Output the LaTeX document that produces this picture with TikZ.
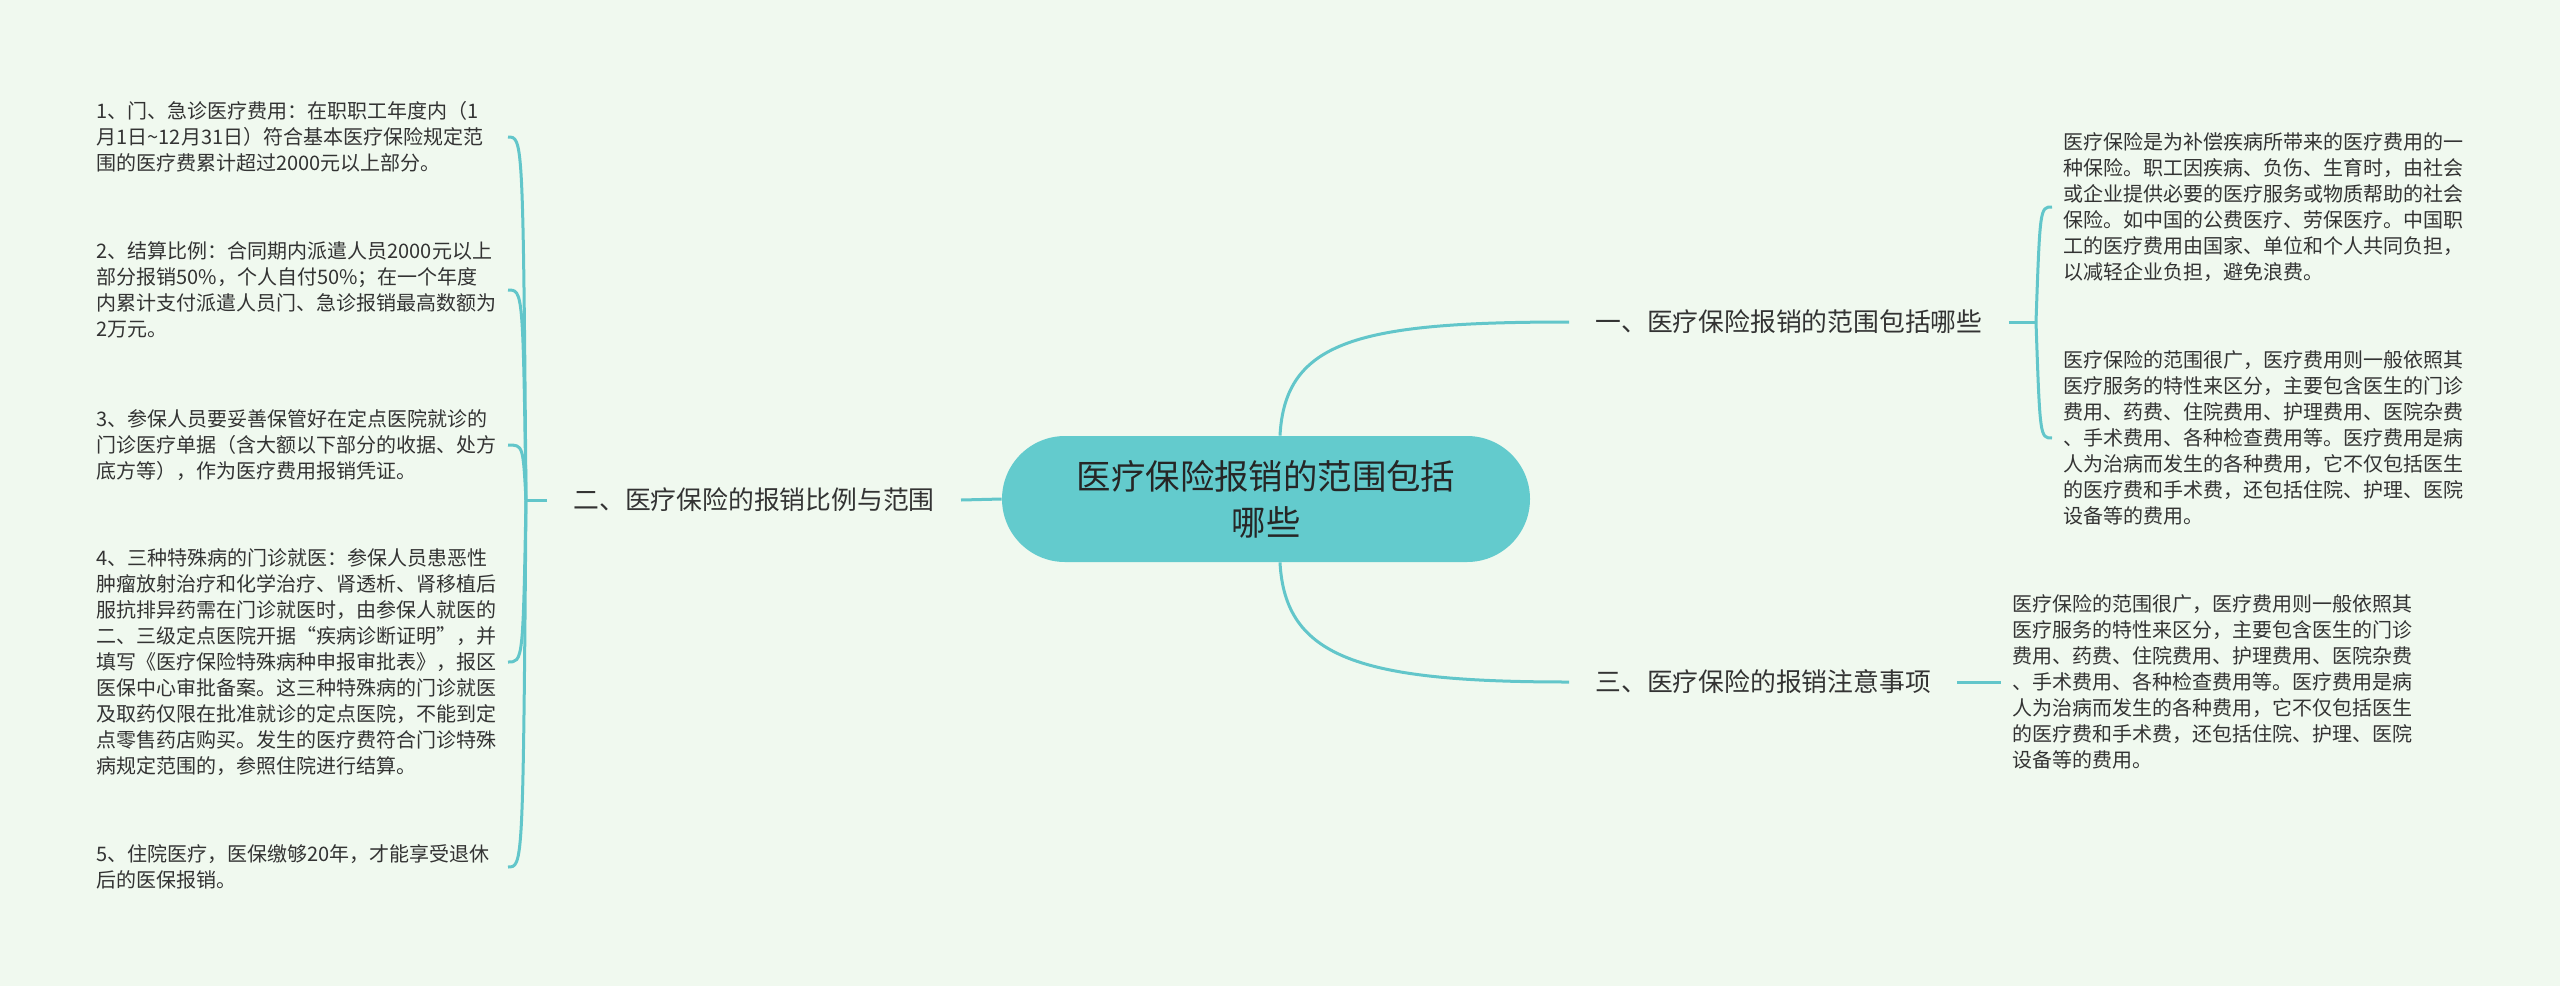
\documentclass[tikz,border=0pt]{standalone}
\usepackage{fontspec}
\newfontfamily\cjk{Noto Sans CJK SC}
\definecolor{bgmint}{HTML}{F0F9EF}
\definecolor{mmteal}{HTML}{62C6CA}
\definecolor{hubfill}{HTML}{63CBCD}
\definecolor{inkgrey}{HTML}{333333}
\tikzset{
  link/.style={draw=mmteal, line width=1.5pt},
  leaf/.style={font=\cjk\fontsize{10pt}{13pt}\selectfont, text=inkgrey, align=left,
    text width=200pt, inner xsep=5.5pt, inner ysep=0pt},
  branch/.style={font=\cjk\fontsize{12.9pt}{16pt}\selectfont, text=inkgrey,
    inner xsep=13pt, inner ysep=2pt},
  hub/.style={fill=hubfill, rounded corners=31.5pt, minimum width=264pt, minimum height=63pt,
    align=center, font=\cjk\fontsize{17.2pt}{23pt}\selectfont, text=black!85}
}
\begin{document}
\begin{tikzpicture}[x=0.5pt, y=-0.5pt]
  \fill[bgmint] (0,0) rectangle (2560,986);
  \useasboundingbox (0,0) rectangle (2560,986);

  % centre and main branches
  \node[hub] (c) at (1266,499) {医疗保险报销的范围包括\\哪些};
  \node[branch, anchor=west] (b1) at (1569,322) {一、医疗保险报销的范围包括哪些};
  \node[branch, anchor=east] (b2) at (961,500) {二、医疗保险的报销比例与范围};
  \node[branch, anchor=west] (b3) at (1569,682) {三、医疗保险的报销注意事项};

  % left leaves
  \node[leaf, anchor=east] (l1) at (508,137) {1、门、急诊医疗费用：在职职工年度内（1\\月1日\textasciitilde12月31日）符合基本医疗保险规定范\\围的医疗费累计超过2000元以上部分。};
  \node[leaf, anchor=east] (l2) at (508,290) {2、结算比例：合同期内派遣人员2000元以上\\部分报销50\%，个人自付50\%；在一个年度\\内累计支付派遣人员门、急诊报销最高数额为\\2万元。};
  \node[leaf, anchor=east] (l3) at (508,445) {3、参保人员要妥善保管好在定点医院就诊的\\门诊医疗单据（含大额以下部分的收据、处方\\底方等），作为医疗费用报销凭证。};
  \node[leaf, anchor=east] (l4) at (508,662) {4、三种特殊病的门诊就医：参保人员患恶性\\肿瘤放射治疗和化学治疗、肾透析、肾移植后\\服抗排异药需在门诊就医时，由参保人就医的\\二、三级定点医院开据“疾病诊断证明”，并\\填写《医疗保险特殊病种申报审批表》，报区\\医保中心审批备案。这三种特殊病的门诊就医\\及取药仅限在批准就诊的定点医院，不能到定\\点零售药店购买。发生的医疗费符合门诊特殊\\病规定范围的，参照住院进行结算。};
  \node[leaf, anchor=east] (l5) at (508,867) {5、住院医疗，医保缴够20年，才能享受退休\\后的医保报销。};

  % right leaves
  \node[leaf, anchor=west] (r1) at (2052,207) {医疗保险是为补偿疾病所带来的医疗费用的一\\种保险。职工因疾病、负伤、生育时，由社会\\或企业提供必要的医疗服务或物质帮助的社会\\保险。如中国的公费医疗、劳保医疗。中国职\\工的医疗费用由国家、单位和个人共同负担，\\以减轻企业负担，避免浪费。};
  \node[leaf, anchor=west] (r2) at (2052,438) {医疗保险的范围很广，医疗费用则一般依照其\\医疗服务的特性来区分，主要包含医生的门诊\\费用、药费、住院费用、护理费用、医院杂费\\、手术费用、各种检查费用等。医疗费用是病\\人为治病而发生的各种费用，它不仅包括医生\\的医疗费和手术费，还包括住院、护理、医院\\设备等的费用。};
  \node[leaf, anchor=west] (r3) at (2001,682) {医疗保险的范围很广，医疗费用则一般依照其\\医疗服务的特性来区分，主要包含医生的门诊\\费用、药费、住院费用、护理费用、医院杂费\\、手术费用、各种检查费用等。医疗费用是病\\人为治病而发生的各种费用，它不仅包括医生\\的医疗费和手术费，还包括住院、护理、医院\\设备等的费用。};

  % connectors
  \coordinate (b2j) at (526,500);
  \coordinate (b1j) at (2036,322);
  \draw[link] ([xshift=7pt]c.north) .. controls (1285,340) and (1360,322) .. (b1.west);
  \draw[link] ([xshift=7pt]c.south) .. controls (1285,658) and (1360,682) .. (b3.west);
  \draw[link] (b2.east) -- (c.west);
  \draw[link] (b2.west) -- (b2j);
  \draw[link] (b1.east) -- (b1j);
  \draw[link] (b3.east) -- (r3.west);
  \foreach \n in {l1,l2,l3,l4,l5}
    \draw[link] (b2j) .. controls ([xshift=7.5pt]\n.east) .. (\n.east);
  \foreach \n in {r1,r2}
    \draw[link] (b1j) .. controls ([xshift=-6pt]\n.west) .. (\n.west);
\end{tikzpicture}
\end{document}
